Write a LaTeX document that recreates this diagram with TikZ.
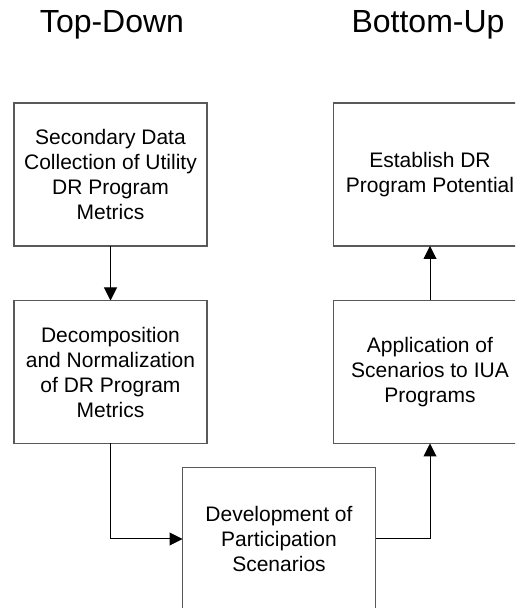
\documentclass[tikz,border=0pt]{standalone}
\usepackage{fontspec}
\setmainfont{Liberation Sans}
\usetikzlibrary{arrows.meta}
\tikzset{
  procbox/.style={draw=black!65, line width=1.3pt, fill=white, minimum width=193pt, minimum height=143pt,
    inner sep=0pt, outer sep=0pt, align=center, font=\fontsize{21}{25}\selectfont},
  title/.style={font=\fontsize{32}{38}\selectfont, inner sep=0pt},
  arr/.style={draw=black, line width=1pt, -{Triangle[length=13pt,width=13pt]}}
}
\begin{document}
\begin{tikzpicture}[x=1pt,y=1pt]
\clip (0,0) rectangle (515,608);
\fill[white] (0,0) rectangle (515,608);
\node[title] (td) at (112,583) {Top-Down};
\node[title] (bu) at (428,583) {Bottom-Up};
\node[procbox] (b1) at (110.5,433.5) {Secondary Data\\Collection of Utility\\DR Program\\Metrics};
\node[procbox] (b2) at (110.5,236) {Decomposition\\and Normalization\\of DR Program\\Metrics};
\node[procbox] (b3) at (279,69) {Development of\\Participation\\Scenarios};
\node[procbox] (b4) at (430,236) {Application of\\Scenarios to IUA\\Programs};
\node[procbox] (b5) at (430,433.5) {Establish DR\\Program Potential};
\draw[arr] (b1.south) -- (b2.north);
\draw[arr] (b2.south) |- (b3.west);
\draw[arr] (b3.east) -| (b4.south);
\draw[arr] (b4.north) -- (b5.south);
\end{tikzpicture}
\end{document}
